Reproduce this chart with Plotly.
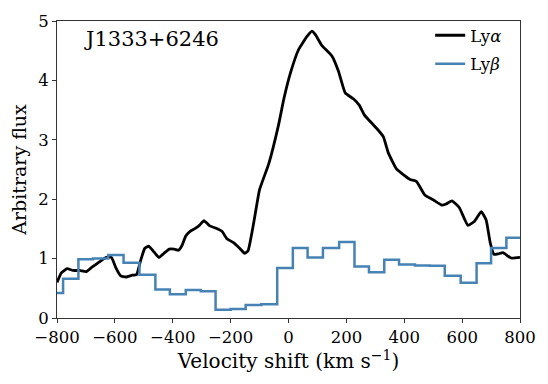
import plotly.graph_objects as go

# Ly-alpha profile
lya_v = [-800, -785, -765, -745, -722, -699, -678, -655, -630, -612, -596, -580,
         -562, -540, -525, -512, -497, -483, -468, -448, -430, -412, -395, -380,
         -368, -355, -340, -325, -308, -292, -272, -250, -230, -212, -190, -168,
         -152, -140, -120, -100, -68, -34, -16, 7, 35, 64, 81, 93, 115, 150, 173,
         196, 224, 245, 262, 280, 305, 328, 345, 373, 400, 420, 442, 471, 500,
         530, 545, 565, 590, 620, 643, 666, 683, 697, 710, 725, 741, 769, 800]
lya_f = [0.60, 0.76, 0.83, 0.80, 0.80, 0.78, 0.86, 0.94, 1.02, 1.02, 0.84, 0.71,
         0.69, 0.72, 0.73, 0.95, 1.17, 1.21, 1.13, 1.02, 1.09, 1.16, 1.16, 1.14,
         1.22, 1.38, 1.46, 1.50, 1.56, 1.64, 1.55, 1.51, 1.46, 1.33, 1.27, 1.17,
         1.09, 1.13, 1.61, 2.16, 2.60, 3.26, 3.69, 4.13, 4.52, 4.74, 4.83, 4.77,
         4.59, 4.41, 4.15, 3.79, 3.69, 3.58, 3.42, 3.32, 3.19, 3.05, 2.78, 2.51,
         2.40, 2.33, 2.30, 2.07, 1.99, 1.90, 1.92, 1.97, 1.86, 1.56, 1.63, 1.79,
         1.65, 1.27, 1.07, 1.08, 1.10, 1.01, 1.02]

# Ly-beta binned profile: left bin edges and values
lyb_edges = [-800, -779, -726, -676, -623, -570, -515, -460, -410, -355, -303,
             -252, -200, -148, -94, -39, 15, 66, 119, 175, 228, 278, 331, 382,
             437, 488, 540, 595, 650, 700, 753, 800]
lyb_f = [0.42, 0.66, 0.99, 1.00, 1.06, 0.93, 0.73, 0.48, 0.40, 0.47, 0.45,
         0.14, 0.15, 0.22, 0.23, 0.84, 1.18, 1.02, 1.18, 1.28, 0.865, 0.77,
         0.98, 0.90, 0.885, 0.88, 0.71, 0.595, 0.92, 1.18, 1.35]

x_ticks = [-800, -600, -400, -200, 0, 200, 400, 600, 800]
y_ticks = [0, 1, 2, 3, 4, 5]

FONT = "DejaVu Serif"

fig = go.Figure()
fig.add_trace(go.Scatter(
    x=lya_v, y=lya_f, mode="lines", name="Ly<i>α</i>", legendgroup="a",
    line=dict(color="black", width=2.8, shape="spline", smoothing=0.4)))
fig.add_trace(go.Scatter(
    x=lyb_edges, y=lyb_f + [lyb_f[-1]], mode="lines", name="Ly<i>β</i>", legendgroup="b",
    line=dict(color="#4682b4", width=2.5, shape="hv")))

fig.add_annotation(x=-713, y=4.69, xref="x", yref="y", text="J1333+6246",
                   showarrow=False, xanchor="left", yanchor="middle",
                   font=dict(family=FONT, size=21, color="black"))

axis_common = dict(showgrid=False, zeroline=False, showline=True, mirror=True,
                   linecolor="#333333", linewidth=1, ticks="outside", ticklen=4,
                   tickcolor="#333333", tickfont=dict(family=FONT, size=16.5, color="black"))

fig.update_xaxes(range=[-800, 800], tickvals=x_ticks,
                 ticktext=[str(t).replace("-", "\u2212") for t in x_ticks],
                 title=dict(text="Velocity shift (km s<sup>\u22121</sup>)", standoff=4,
                            font=dict(family=FONT, size=20, color="black")),
                 **axis_common)
fig.update_yaxes(range=[0, 5], tickvals=y_ticks,
                 title=dict(text="Arbitrary flux", standoff=6,
                            font=dict(family=FONT, size=19, color="black")),
                 **axis_common)

fig.update_layout(
    width=548, height=384,
    margin=dict(l=57, r=26, t=16, b=66),
    paper_bgcolor="white", plot_bgcolor="white",
    showlegend=True,
    legend=dict(x=0.806, y=1.01, xanchor="left", yanchor="top",
                bgcolor="rgba(0,0,0,0)", font=dict(family=FONT, size=16.5, color="black"),
                tracegroupgap=4, itemwidth=30),
)

fig.write_html("out.html", config={"displayModeBar": False},
               post_script="document.body.style.margin='0';")
